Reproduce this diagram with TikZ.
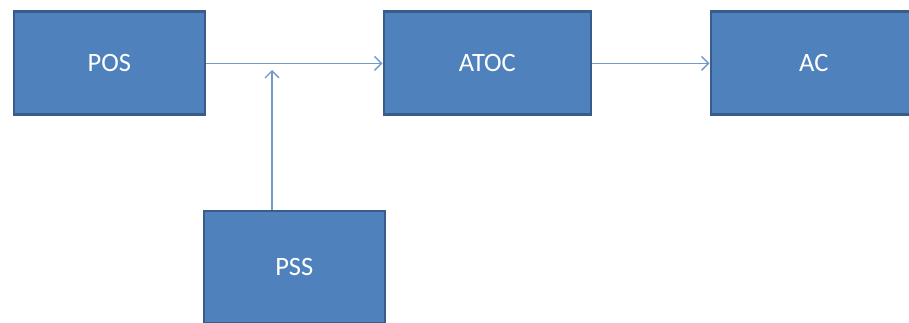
\documentclass[tikz,border=0pt]{standalone}
\usepackage{fontspec}
\setmainfont{Carlito}
\usetikzlibrary{arrows.meta}
\definecolor{boxfill}{HTML}{4F81BD}
\definecolor{boxline}{HTML}{385D8A}
\definecolor{conn}{HTML}{7399CC}
\tikzset{
  block/.style={draw=boxline, line width=2.6pt, fill=boxfill, text=white, font=\fontsize{26.5}{30}\selectfont, anchor=north west, inner sep=0pt},
  conline/.style={draw=conn, line width=1.4pt, -{Straight Barb[length=7pt,width=14pt,line width=1.4pt]}}
}
\begin{document}
\begin{tikzpicture}[x=1pt,y=-1pt]
\useasboundingbox (0,0) rectangle (909,323);
\clip (0,0) rectangle (909,323);
\node[block, minimum width=191pt, minimum height=103pt] (pos) at (12.5,10.5) {POS};
\node[block, minimum width=207pt, minimum height=103pt] (atoc) at (382.5,10.5) {ATOC};
\node[block, minimum width=206pt, minimum height=103pt] (ac) at (709.5,10.5) {AC};
\node[block, minimum width=181pt, minimum height=112pt] (pss) at (202.5,209.5) {PSS};
\draw[conline] (pos.east) -- (atoc.west);
\draw[conline] (atoc.east) -- (ac.west);
\coordinate (join) at (272,70);
\draw[conline] (pss.north -| join) -- (join);
\end{tikzpicture}
\end{document}
